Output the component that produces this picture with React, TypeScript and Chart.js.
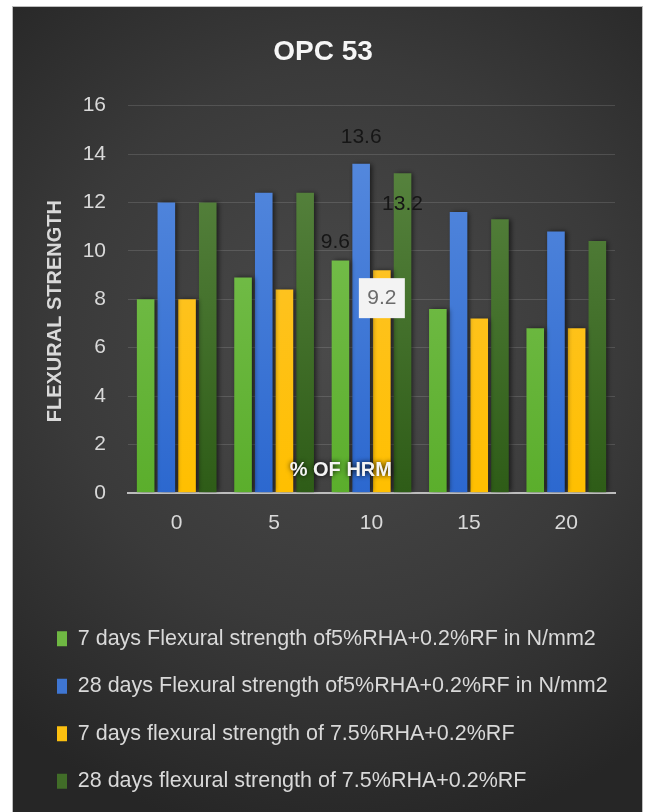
import { useEffect, useRef } from "react";
import { Chart, registerables } from "chart.js";

Chart.register(...registerables);

// ---- chart content ----
const chartTitle = "OPC 53";
const yAxisTitle = "FLEXURAL STRENGTH";
const xAxisTitle = "% OF HRM";

const categories = ["0", "5", "10", "15", "20"];

const seriesNames = [
  "7 days Flexural strength of5%RHA+0.2%RF in N/mm2",
  "28 days Flexural strength of5%RHA+0.2%RF in N/mm2",
  "7 days flexural strength of 7.5%RHA+0.2%RF",
  "28 days flexural strength of 7.5%RHA+0.2%RF",
];

const sevenDay5 = [8, 8.9, 9.6, 7.6, 6.8];
const twentyEightDay5 = [12, 12.4, 13.6, 11.6, 10.8];
const sevenDay75 = [8, 8.4, 9.2, 7.2, 6.8];
const twentyEightDay75 = [12, 12.4, 13.2, 11.3, 10.4];

const yMin = 0;
const yMax = 16;
const yStep = 2;

// ---- styling ----
const FONT = "'Liberation Sans', Arial, sans-serif";
const seriesColors = ["#6fb843", "#3f76d2", "#fcc010", "#416d28"];
const seriesGradients: [string, string][] = [
  ["#80c459", "#5bae2c"],
  ["#5a8ddf", "#2c68cf"],
  ["#fdc53a", "#ffbf00"],
  ["#5e8a45", "#2e5c17"],
];

// data labels shown on the 10 % group
const valueLabels = [
  { series: 0, index: 2, dx: -5, dy: -18, boxed: false },
  { series: 1, index: 2, dx: 0, dy: -26, boxed: false },
  { series: 2, index: 2, dx: 0, dy: 28, boxed: true },
  { series: 3, index: 2, dx: 0, dy: 31, boxed: false },
];

const backgroundPlugin = {
  id: "darkBackground",
  beforeDraw(chart: any) {
    const { ctx, width, height } = chart;
    ctx.save();
    const g = ctx.createRadialGradient(width * 0.52, height * 0.42, 10, width * 0.52, height * 0.42, height * 0.62);
    g.addColorStop(0, "#4a4a4a");
    g.addColorStop(0.55, "#3a3a3a");
    g.addColorStop(1, "#262626");
    ctx.fillStyle = g;
    ctx.fillRect(0, 0, width, height);
    ctx.restore();
  },
};

const barShadowPlugin = {
  id: "barShadow",
  beforeDatasetsDraw(chart: any) {
    const c = chart.ctx;
    c.save();
    c.shadowColor = "rgba(0,0,0,0.6)";
    c.shadowBlur = 5;
    c.shadowOffsetX = 2;
    c.shadowOffsetY = 0;
  },
  afterDatasetsDraw(chart: any) {
    chart.ctx.restore();
  },
};

const annotatePlugin = {
  id: "annotate",
  afterDatasetsDraw(chart: any) {
    const { ctx, chartArea } = chart;
    const yScale = chart.scales.y;

    // value axis title
    ctx.save();
    ctx.translate(yScale.left + 24, (chartArea.top + chartArea.bottom) / 2 + 12);
    ctx.rotate(-Math.PI / 2);
    ctx.font = `bold 20px ${FONT}`;
    ctx.textAlign = "center";
    ctx.textBaseline = "middle";
    ctx.fillStyle = "#d9d9d9";
    ctx.fillText(yAxisTitle, 0, 0);
    ctx.restore();

    // category axis title, placed inside the plot
    ctx.save();
    ctx.font = `bold 20px ${FONT}`;
    ctx.textAlign = "center";
    ctx.textBaseline = "middle";
    ctx.shadowColor = "rgba(0,0,0,0.9)";
    ctx.shadowBlur = 5;
    ctx.fillStyle = "#f4f4f4";
    ctx.fillText(xAxisTitle, chartArea.left + chartArea.width * 0.437, chartArea.bottom - 22);
    ctx.restore();

    // value labels
    for (const spec of valueLabels) {
      const bar = chart.getDatasetMeta(spec.series).data[spec.index];
      const value = chart.data.datasets[spec.series].data[spec.index] as number;
      const text = value.toFixed(1);
      const x = bar.x + spec.dx;
      const y = bar.y + spec.dy;
      ctx.save();
      ctx.font = `21px ${FONT}`;
      ctx.textAlign = "center";
      ctx.textBaseline = "middle";
      if (spec.boxed) {
        const w = 46;
        const h = 40;
        ctx.fillStyle = "#f3f3f3";
        ctx.fillRect(x - w / 2, y - h / 2, w, h);
        ctx.fillStyle = "#6b6b6b";
      } else {
        ctx.fillStyle = "#161616";
      }
      ctx.fillText(text, x, y);
      ctx.restore();
    }
  },
};

export default function App() {
  const canvasRef = useRef<HTMLCanvasElement | null>(null);

  useEffect(() => {
    const canvas = canvasRef.current;
    if (!canvas) return;

    const values = [sevenDay5, twentyEightDay5, sevenDay75, twentyEightDay75];

    const chart = new Chart(canvas, {
      type: "bar",
      data: {
        labels: categories,
        datasets: values.map((data, i) => ({
          label: seriesNames[i],
          data,
          backgroundColor: (c: any) => {
            const area = c.chart.chartArea;
            if (!area) return seriesColors[i];
            const g = c.chart.ctx.createLinearGradient(0, area.top, 0, area.bottom);
            g.addColorStop(0, seriesGradients[i][0]);
            g.addColorStop(1, seriesGradients[i][1]);
            return g;
          },
          borderWidth: 0,
          categoryPercentage: 0.85,
          barPercentage: 0.85,
        })),
      },
      options: {
        animation: false,
        responsive: false,
        layout: { padding: { left: 18, right: 27, top: 0, bottom: 11 } },
        plugins: {
          title: {
            display: true,
            text: chartTitle,
            color: "#f6f6f6",
            font: { family: FONT, size: 28, weight: "bold" },
            padding: { top: 28, bottom: 37 },
          },
          legend: {
            position: "bottom",
            align: "start",
            labels: {
              color: "#d9d9d9",
              font: { family: FONT, size: 21.5 },
              boxWidth: 10,
              boxHeight: 15,
              padding: 26,
              generateLabels: (ch: any) =>
                ch.data.datasets.map((ds: any, i: number) => ({
                  text: ds.label,
                  fillStyle: seriesColors[i],
                  strokeStyle: seriesColors[i],
                  lineWidth: 0,
                  fontColor: "#d9d9d9",
                  datasetIndex: i,
                  hidden: false,
                })),
            },
          },
          tooltip: { enabled: false },
        },
        scales: {
          x: {
            grid: { display: false, drawTicks: false },
            border: { display: true, color: "#bdbdbd", width: 2 },
            ticks: { color: "#d9d9d9", font: { family: FONT, size: 21 }, padding: 18 },
            afterFit: (scale: any) => {
              scale.height += 48;
            },
          },
          y: {
            min: yMin,
            max: yMax,
            ticks: { stepSize: yStep, color: "#d9d9d9", font: { family: FONT, size: 21 }, padding: 22 },
            grid: { color: "rgba(255,255,255,0.13)", drawTicks: false },
            border: { display: false },
            afterFit: (scale: any) => {
              scale.width = 97;
            },
          },
        },
      },
      plugins: [backgroundPlugin, barShadowPlugin, annotatePlugin],
    });

    return () => chart.destroy();
  }, []);

  return (
    <div
      style={{
        position: "absolute",
        left: 12,
        top: 6,
        border: "1px solid #bdbdbd",
        background: "#262626",
      }}
    >
      <canvas ref={canvasRef} width={629} height={806} style={{ display: "block" }} />
    </div>
  );
}
